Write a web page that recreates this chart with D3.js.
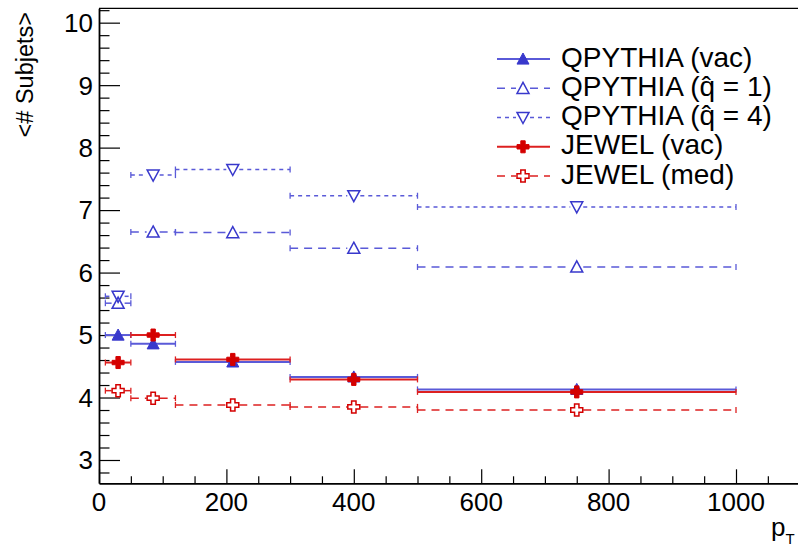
<!DOCTYPE html>
<html><head><meta charset="utf-8">
<script src="https://cdn.jsdelivr.net/npm/d3@7"></script>
<style>body{margin:0;background:#fff}svg{display:block;font-family:"Liberation Sans",Arial,Helvetica,sans-serif}</style>
</head><body>
<svg id="c" width="798" height="547"></svg>
<script>
// ---- data ----
const binLow  = [10, 50, 120, 300, 500];
const binHigh = [50, 120, 300, 500, 1000];
const qpythiaVac = [5.00, 4.86, 4.57, 4.33, 4.13];
const qpythiaQ1  = [5.51, 6.65, 6.64, 6.39, 6.09];
const qpythiaQ4  = [5.62, 7.56, 7.65, 7.23, 7.05];
const jewelVac   = [4.56, 5.00, 4.61, 4.29, 4.09];
const jewelMed   = [4.11, 3.99, 3.88, 3.85, 3.80];
const xTicks = [0, 200, 400, 600, 800, 1000];
const yTicks = [3, 4, 5, 6, 7, 8, 9, 10];
const seriesNames = ["QPYTHIA (vac)", "QPYTHIA (q\u0302 = 1)", "QPYTHIA (q\u0302 = 4)", "JEWEL (vac)", "JEWEL (med)"];

const FONT = '"Liberation Sans",Arial,Helvetica,sans-serif';
const BLUE = "#3838cc", BLUEL = "#5a5ad8", RED = "#d40000", REDL = "#dd2020";
const series = [
  {name: seriesNames[0], vals: qpythiaVac, color: BLUE, lc: BLUEL, dash: null, marker: "triUpFill", lw: 2},
  {name: seriesNames[1], vals: qpythiaQ1, color: BLUE, lc: BLUEL, dash: "8,6", marker: "triUpOpen", lw: 1.5},
  {name: seriesNames[2], vals: qpythiaQ4, color: BLUE, lc: BLUEL, dash: "4,4", marker: "triDownOpen", lw: 1.5},
  {name: seriesNames[3], vals: jewelVac, color: RED, lc: REDL, dash: null, marker: "crossFill", lw: 2},
  {name: seriesNames[4], vals: jewelMed, color: RED, lc: REDL, dash: "8,6", marker: "crossOpen", lw: 1.5}
];

const svg = d3.select("#c");
const L = 99, R = 799.7, T = 8.3, B = 483.3;
const x = d3.scaleLinear().domain([0, 1100]).range([L, R]);
const y = d3.scaleLinear().domain([2.627, 10.23]).range([B, T]);

// frame
svg.append("line").attr("x1", L).attr("x2", R).attr("y1", T).attr("y2", T).attr("stroke", "#000").attr("stroke-width", 1.2);

// axes
const gx = svg.append("g").attr("transform", `translate(0,${B})`);
gx.call(d3.axisBottom(x).tickValues(d3.range(0, 1101, 50)).tickSize(-7).tickSizeOuter(0).tickFormat(""));
gx.call(g => g.selectAll(".tick line").filter(d => xTicks.includes(d)).attr("y2", -14));
gx.select(".domain").attr("stroke-width", 1.8);
gx.selectAll(".tick line").attr("stroke-width", 1.2);
svg.append("g").selectAll("text").data(xTicks).enter().append("text")
  .attr("x", d => x(d)).attr("y", B + 28).attr("text-anchor", "middle").attr("font-size", 26)
  .attr("fill", "#000").attr("font-family", FONT).text(d => d);

const gy = svg.append("g").attr("transform", `translate(${L},0)`);
const yMinor = d3.range(14, 52).map(i => +(i * 0.2).toFixed(1));
gy.call(d3.axisLeft(y).tickValues(yMinor).tickSize(-10.5).tickSizeOuter(0).tickFormat(""));
gy.call(g => g.selectAll(".tick line").filter(d => Math.abs(d - Math.round(d)) < 1e-6).attr("x2", 21));
gy.select(".domain").attr("stroke-width", 1.8);
gy.selectAll(".tick line").attr("stroke-width", 1.2);
svg.append("g").selectAll("text").data(yTicks).enter().append("text")
  .attr("x", L - 6).attr("y", d => y(d)).attr("dy", "0.36em").attr("text-anchor", "end").attr("font-size", 26)
  .attr("fill", "#000").attr("font-family", FONT).text(d => d);

// titles
svg.append("text").attr("transform", "translate(33,12) rotate(-90)").attr("text-anchor", "end")
  .attr("font-size", 23.5).text("<# Subjets>");
const xt = svg.append("text").attr("x", 771).attr("y", 536).attr("font-size", 26);
xt.append("tspan").text("p");
xt.append("tspan").attr("font-size", 15).attr("dy", 8).text("T");

// markers
function drawMarker(g, type, cx, cy, color) {
  if (type === "triUpFill" || type === "triUpOpen") {
    const s = 6;
    g.append("path").attr("d", `M${cx},${cy - s}L${cx + s},${cy + s * 0.85}L${cx - s},${cy + s * 0.85}Z`)
      .attr("fill", type === "triUpFill" ? color : "none").attr("stroke", color).attr("stroke-width", type === "triUpFill" ? 1 : 1.5);
  } else if (type === "triDownOpen") {
    const s = 6;
    g.append("path").attr("d", `M${cx},${cy + s}L${cx + s},${cy - s * 0.85}L${cx - s},${cy - s * 0.85}Z`)
      .attr("fill", "none").attr("stroke", color).attr("stroke-width", 1.5);
  } else {
    const s = 6, a = 2.2;
    const d = `M${cx - a},${cy - s}H${cx + a}V${cy - a}H${cx + s}V${cy + a}H${cx + a}V${cy + s}H${cx - a}V${cy + a}H${cx - s}V${cy - a}H${cx - a}Z`;
    g.append("path").attr("d", d).attr("fill", type === "crossFill" ? color : "#fff").attr("stroke", color)
      .attr("stroke-width", type === "crossFill" ? 1 : 1.5);
  }
}

// series
series.forEach(s => {
  const g = svg.append("g");
  s.vals.forEach((v, i) => {
    const x0 = x(binLow[i]), x1 = x(binHigh[i]), cx = x((binLow[i] + binHigh[i]) / 2), cy = y(v);
    const gap = s.dash ? 6.5 : 0;
    const segs = gap ? [[x0, cx - gap], [cx + gap, x1]] : [[x0, x1]];
    segs.forEach(([a, b]) => g.append("line").attr("x1", a).attr("x2", b).attr("y1", cy).attr("y2", cy)
      .attr("stroke", s.lc).attr("stroke-width", s.lw).attr("stroke-dasharray", s.dash));
    [x0, x1].forEach(xe => g.append("line").attr("x1", xe).attr("x2", xe).attr("y1", cy - 3).attr("y2", cy + 3)
      .attr("stroke", s.lc).attr("stroke-width", 1.3));
    drawMarker(g, s.marker, cx, cy, s.color);
  });
});

// legend
const legRows = [59, 88.3, 117.5, 146.8, 176];
series.forEach((s, i) => {
  const g = svg.append("g");
  const ly = legRows[i];
  const gap = s.dash ? 7 : 0;
  const segs = gap ? [[497, 523 - gap], [523 + gap, 550]] : [[497, 550]];
  segs.forEach(([a, b]) => g.append("line").attr("x1", a).attr("x2", b).attr("y1", ly).attr("y2", ly)
    .attr("stroke", s.lc).attr("stroke-width", s.lw).attr("stroke-dasharray", s.dash));
  drawMarker(g, s.marker, 523, ly, s.color);
  g.append("text").attr("x", 561).attr("y", ly + 7.5).attr("font-size", 28).text(s.name);
});
</script>
</body></html>
